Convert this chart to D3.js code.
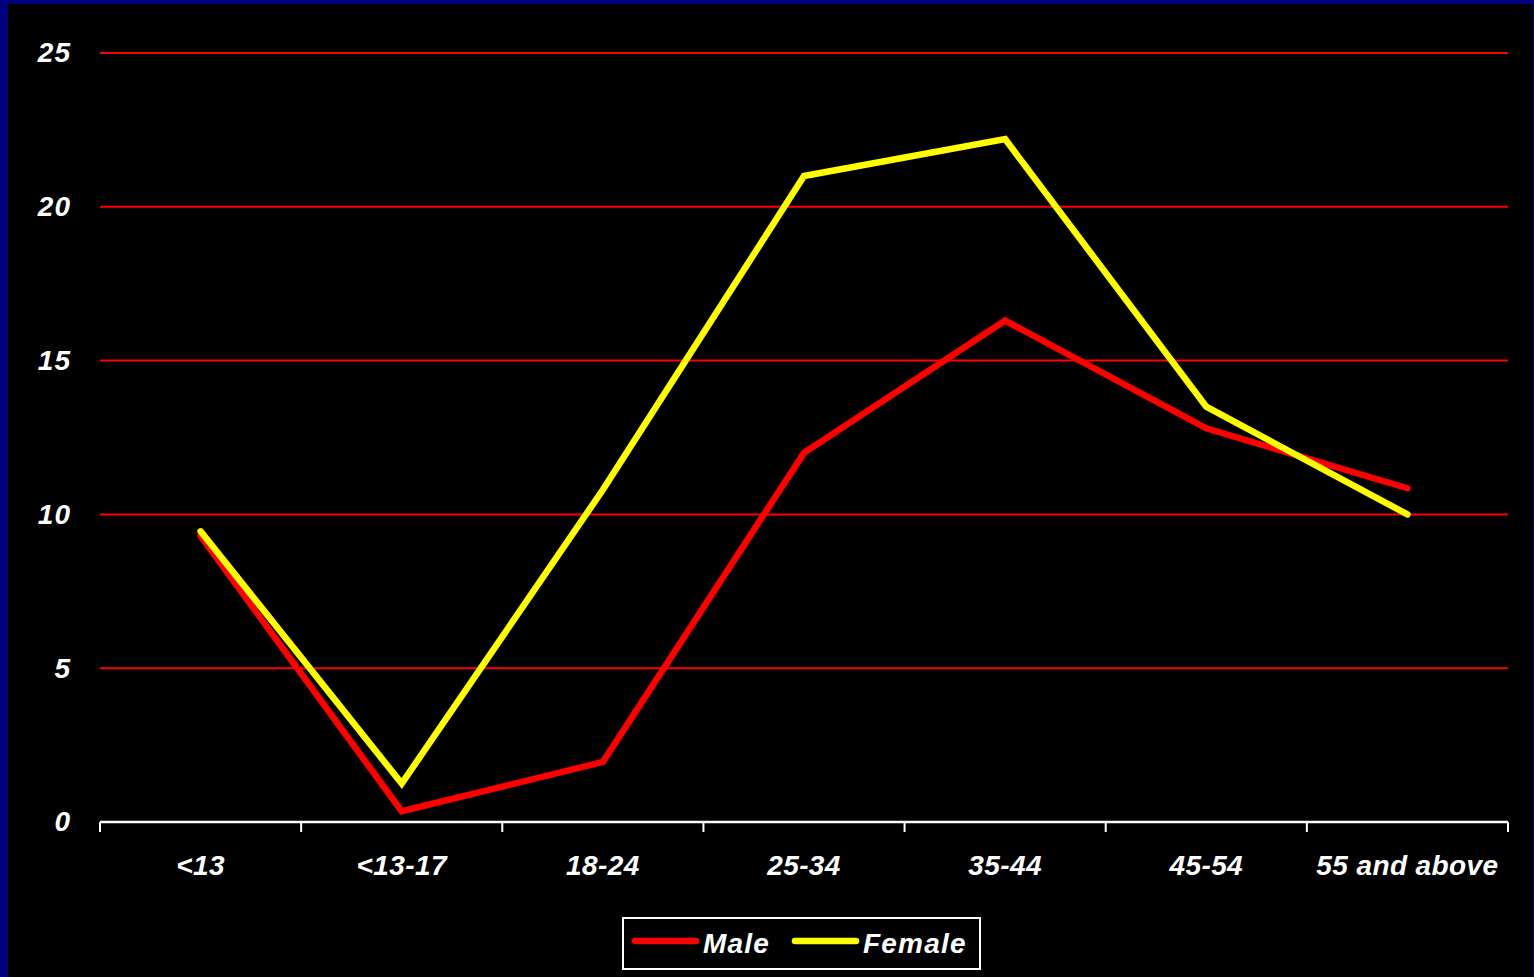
<!DOCTYPE html>
<html lang="en">
<head>
  <meta charset="UTF-8">
  <title>Male / Female by age group</title>
  <script src="https://d3js.org/d3.v7.min.js"></script>
  <style>
    body {
      margin: 0;
      background: #000080;
      overflow: hidden;
    }

    svg {
      display: block;
      font-family: "Liberation Sans", Arial, sans-serif;
      font-weight: bold;
      font-style: italic;
    }

    .grid line {
      stroke: #ff0000;
      stroke-width: 2;
    }

    .tick text {
      fill: #fff;
    }
  </style>
</head>
<body>

<svg width="1534" height="977"></svg>

<script>
  const categories = ["<13", "<13-17", "18-24", "25-34", "35-44", "45-54", "55 and above"];
  const male = [9.3, 0.35, 1.95, 12.0, 16.3, 12.8, 10.85];
  const female = [9.45, 1.25, 10.8, 21.0, 22.2, 13.5, 10.0];
  const yTicks = [0, 5, 10, 15, 20, 25];

  const series = [
    { name: "Male", color: "#ff0000", values: male },
    { name: "Female", color: "#ffff00", values: female }
  ];

  const svg = d3.select("svg");
  const width = +svg.attr("width");
  const height = +svg.attr("height");

  // black chart area over the navy slide background
  svg.append("rect")
          .attr("x", 8)
          .attr("y", 4)
          .attr("width", width - 9)
          .attr("height", height - 4)
          .attr("fill", "#000");

  const x = d3.scaleBand()
          .domain(categories)
          .range([100, 1508]);

  const y = d3.scaleLinear()
          .domain([0, 25])
          .range([822, 53]);

  // horizontal red gridlines
  svg.append("g")
          .attr("class", "grid")
          .selectAll("line")
          .data(yTicks.filter(d => d > 0))
          .join("line")
          .attr("x1", x.range()[0])
          .attr("x2", x.range()[1])
          .attr("y1", d => y(d))
          .attr("y2", d => y(d));

  // y labels
  const yAxis = svg.append("g")
          .attr("transform", `translate(${x.range()[0]},0)`)
          .call(d3.axisLeft(y).tickValues(yTicks).tickSize(0).tickPadding(29));
  yAxis.attr("font-family", null);
  yAxis.select(".domain").remove();
  yAxis.selectAll("text")
          .style("font-size", "28px")
          .style("letter-spacing", "1px");

  // x axis: white baseline with ticks at band boundaries
  const xAxis = svg.append("g")
          .attr("transform", `translate(0,${y(0)})`)
          .call(d3.axisBottom(x).tickSize(0).tickPadding(33));
  xAxis.attr("font-family", null);
  xAxis.select(".domain")
          .attr("stroke", "#fff")
          .attr("stroke-width", 2.5)
          .attr("d", `M${x.range()[0]},0H${x.range()[1]}`);
  xAxis.selectAll("text")
          .style("font-size", "28px")
          .style("letter-spacing", "0.4px");

  const edges = categories.map(c => x(c)).concat([x.range()[1]]);
  xAxis.selectAll(".edge")
          .data(edges)
          .join("line")
          .attr("class", "edge")
          .attr("stroke", "#fff")
          .attr("stroke-width", 2)
          .attr("x1", d => d)
          .attr("x2", d => d)
          .attr("y1", 0)
          .attr("y2", 10);

  const line = d3.line()
          .x((d, i) => x(categories[i]) + x.bandwidth() / 2)
          .y(d => y(d));

  svg.append("g")
          .selectAll("path")
          .data(series)
          .join("path")
          .attr("fill", "none")
          .attr("stroke", d => d.color)
          .attr("stroke-width", 6.5)
          .attr("stroke-linecap", "round")
          .attr("stroke-linejoin", "miter")
          .attr("d", d => line(d.values));

  // legend
  const legend = svg.append("g").attr("transform", "translate(623,918)");
  legend.append("rect")
          .attr("width", 357)
          .attr("height", 51)
          .attr("fill", "#000")
          .attr("stroke", "#fff")
          .attr("stroke-width", 2);

  const item = legend.selectAll(".item")
          .data(series)
          .join("g")
          .attr("class", "item")
          .attr("transform", (d, i) => `translate(${12 + i * 160},0)`);

  item.append("line")
          .attr("x1", 0)
          .attr("x2", 61)
          .attr("y1", 23)
          .attr("y2", 23)
          .attr("stroke", d => d.color)
          .attr("stroke-width", 6.5)
          .attr("stroke-linecap", "round");

  item.append("text")
          .attr("x", 68)
          .attr("y", 35)
          .attr("fill", "#fff")
          .style("font-size", "28px")
          .style("letter-spacing", "1.2px")
          .text(d => d.name);
</script>
</body>
</html>
